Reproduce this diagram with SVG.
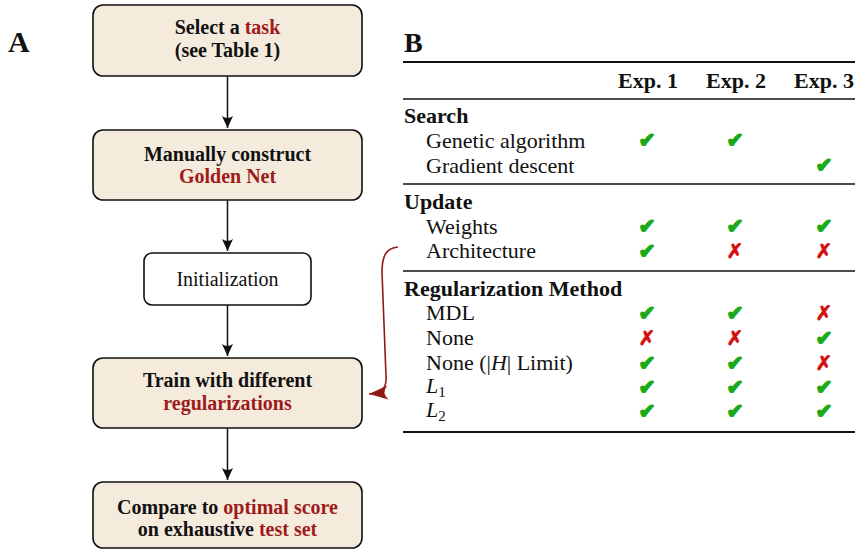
<svg xmlns="http://www.w3.org/2000/svg" width="855" height="550" viewBox="0 0 855 550">
<style>
.box{fill:#f5ebdd;stroke:#111;stroke-width:1.6}
.wbox{fill:#fff;stroke:#111;stroke-width:1.6}
.bt{font-family:"Liberation Serif","Times New Roman",serif;font-size:20px;font-weight:bold;fill:#111;text-anchor:middle}
.rt{font-family:"Liberation Serif","Times New Roman",serif;font-size:20px;fill:#111;text-anchor:middle}
.red{fill:#9e1b1b}
.lbl{font-family:"Liberation Serif","Times New Roman",serif;font-size:30px;font-weight:bold;fill:#111}
.th{font-family:"Liberation Serif","Times New Roman",serif;font-size:22px;font-weight:bold;fill:#111}
.td{font-family:"Liberation Serif","Times New Roman",serif;font-size:22px;fill:#111}
.ck{font-family:"DejaVu Sans",sans-serif;font-size:20px;fill:#1aaa1a;stroke:#1aaa1a;stroke-width:1.6;stroke-linejoin:round;text-anchor:middle}
.cx{font-family:"DejaVu Sans",sans-serif;font-size:20px;fill:#d40f0f;stroke:#d40f0f;stroke-width:0.9;text-anchor:middle}
.conn{fill:none;stroke:#111;stroke-width:1.5}
.rule{stroke:#111}
</style>
<defs>
<marker id="ah" markerUnits="userSpaceOnUse" markerWidth="14" markerHeight="14" viewBox="-13 -7 14 14" refX="0" refY="0" orient="auto">
<path d="M0,0 L-12,-5.5 Q-8,0 -12,5.5 Z" fill="#111"/>
</marker>
<marker id="ahr" markerUnits="userSpaceOnUse" markerWidth="22" markerHeight="16" viewBox="-21 -8 22 16" refX="0" refY="0" orient="auto">
<path d="M0,0 L-19,-7 Q-12,0 -19,7 Z" fill="#8e1a1a"/>
</marker>
</defs>

<text class="lbl" x="8" y="52">A</text>
<text class="lbl" x="404" y="52" style="font-size:28px">B</text>

<g id="n1">
<rect class="box" x="93" y="5" width="269" height="71" rx="10"/>
<text class="bt" x="227.5" y="34">Select a <tspan class="red">task</tspan></text>
<text class="bt" x="227.5" y="57">(see Table 1)</text>
</g>
<g id="n2">
<rect class="box" x="93" y="130" width="269" height="70" rx="10"/>
<text class="bt" x="227.5" y="161">Manually construct</text>
<text class="bt red" x="227.5" y="183">Golden Net</text>
</g>
<g id="n3">
<rect class="wbox" x="144" y="253" width="167" height="52" rx="8"/>
<text class="rt" x="227.5" y="286">Initialization</text>
</g>
<g id="n4">
<rect class="box" x="93" y="358" width="269" height="70" rx="10"/>
<text class="bt" x="227.5" y="387">Train with different</text>
<text class="bt red" x="227.5" y="410">regularizations</text>
</g>
<g id="n5">
<rect class="box" x="93" y="482" width="269" height="66" rx="10"/>
<text class="bt" x="227.5" y="514">Compare to <tspan class="red">optimal score</tspan></text>
<text class="bt" x="227.5" y="536">on exhaustive <tspan class="red">test set</tspan></text>
</g>

<g id="connectors">
<line class="conn" x1="227.5" y1="76" x2="227.5" y2="128" marker-end="url(#ah)"/>
<line class="conn" x1="227.5" y1="200" x2="227.5" y2="251" marker-end="url(#ah)"/>
<line class="conn" x1="227.5" y1="305" x2="227.5" y2="356" marker-end="url(#ah)"/>
<line class="conn" x1="227.5" y1="428" x2="227.5" y2="480" marker-end="url(#ah)"/>
<path d="M398,247 C386,248 382,256 382,272 L386,376 C387,389 381,393 369,394" fill="none" stroke="#8e1a1a" stroke-width="1.6" marker-end="url(#ahr)"/>
</g>

<g id="table">
<line class="rule" x1="403" y1="62" x2="855" y2="62" stroke-width="2"/>
<text class="th" x="618" y="88">Exp. 1</text>
<text class="th" x="706" y="88">Exp. 2</text>
<text class="th" x="794" y="88">Exp. 3</text>
<line class="rule" x1="403" y1="99" x2="855" y2="99" stroke-width="1.3"/>

<text class="th" x="404" y="123">Search</text>
<text class="td" x="426" y="148">Genetic algorithm</text>
<text class="ck" x="647" y="147" textLength="17" lengthAdjust="spacingAndGlyphs">✔</text>
<text class="ck" x="735" y="147" textLength="17" lengthAdjust="spacingAndGlyphs">✔</text>
<text class="td" x="426" y="173">Gradient descent</text>
<text class="ck" x="824" y="172" textLength="17" lengthAdjust="spacingAndGlyphs">✔</text>
<line class="rule" x1="403" y1="184" x2="855" y2="184" stroke-width="1.3"/>

<text class="th" x="404" y="209">Update</text>
<text class="td" x="426" y="234">Weights</text>
<text class="ck" x="647" y="233" textLength="17" lengthAdjust="spacingAndGlyphs">✔</text>
<text class="ck" x="735" y="233" textLength="17" lengthAdjust="spacingAndGlyphs">✔</text>
<text class="ck" x="824" y="233" textLength="17" lengthAdjust="spacingAndGlyphs">✔</text>
<text class="td" x="426" y="258">Architecture</text>
<text class="ck" x="647" y="258" textLength="17" lengthAdjust="spacingAndGlyphs">✔</text>
<text class="cx" x="735" y="258">✗</text>
<text class="cx" x="824" y="258">✗</text>
<line class="rule" x1="403" y1="271" x2="855" y2="271" stroke-width="1.3"/>

<text class="th" x="404" y="296">Regularization Method</text>
<text class="td" x="426" y="320">MDL</text>
<text class="ck" x="647" y="320" textLength="17" lengthAdjust="spacingAndGlyphs">✔</text>
<text class="ck" x="735" y="320" textLength="17" lengthAdjust="spacingAndGlyphs">✔</text>
<text class="cx" x="824" y="320">✗</text>
<text class="td" x="426" y="345">None</text>
<text class="cx" x="647" y="345">✗</text>
<text class="cx" x="735" y="345">✗</text>
<text class="ck" x="824" y="345" textLength="17" lengthAdjust="spacingAndGlyphs">✔</text>
<text class="td" x="426" y="370">None (|<tspan font-style="italic">H</tspan>| Limit)</text>
<text class="ck" x="647" y="370" textLength="17" lengthAdjust="spacingAndGlyphs">✔</text>
<text class="ck" x="735" y="370" textLength="17" lengthAdjust="spacingAndGlyphs">✔</text>
<text class="cx" x="824" y="370">✗</text>
<text class="td" x="426" y="393"><tspan font-style="italic">L</tspan><tspan font-size="15" dy="4">1</tspan></text>
<text class="ck" x="647" y="394" textLength="17" lengthAdjust="spacingAndGlyphs">✔</text>
<text class="ck" x="735" y="394" textLength="17" lengthAdjust="spacingAndGlyphs">✔</text>
<text class="ck" x="824" y="394" textLength="17" lengthAdjust="spacingAndGlyphs">✔</text>
<text class="td" x="426" y="417"><tspan font-style="italic">L</tspan><tspan font-size="15" dy="4">2</tspan></text>
<text class="ck" x="647" y="418" textLength="17" lengthAdjust="spacingAndGlyphs">✔</text>
<text class="ck" x="735" y="418" textLength="17" lengthAdjust="spacingAndGlyphs">✔</text>
<text class="ck" x="824" y="418" textLength="17" lengthAdjust="spacingAndGlyphs">✔</text>
<line class="rule" x1="403" y1="432" x2="855" y2="432" stroke-width="2"/>
</g>
</svg>
